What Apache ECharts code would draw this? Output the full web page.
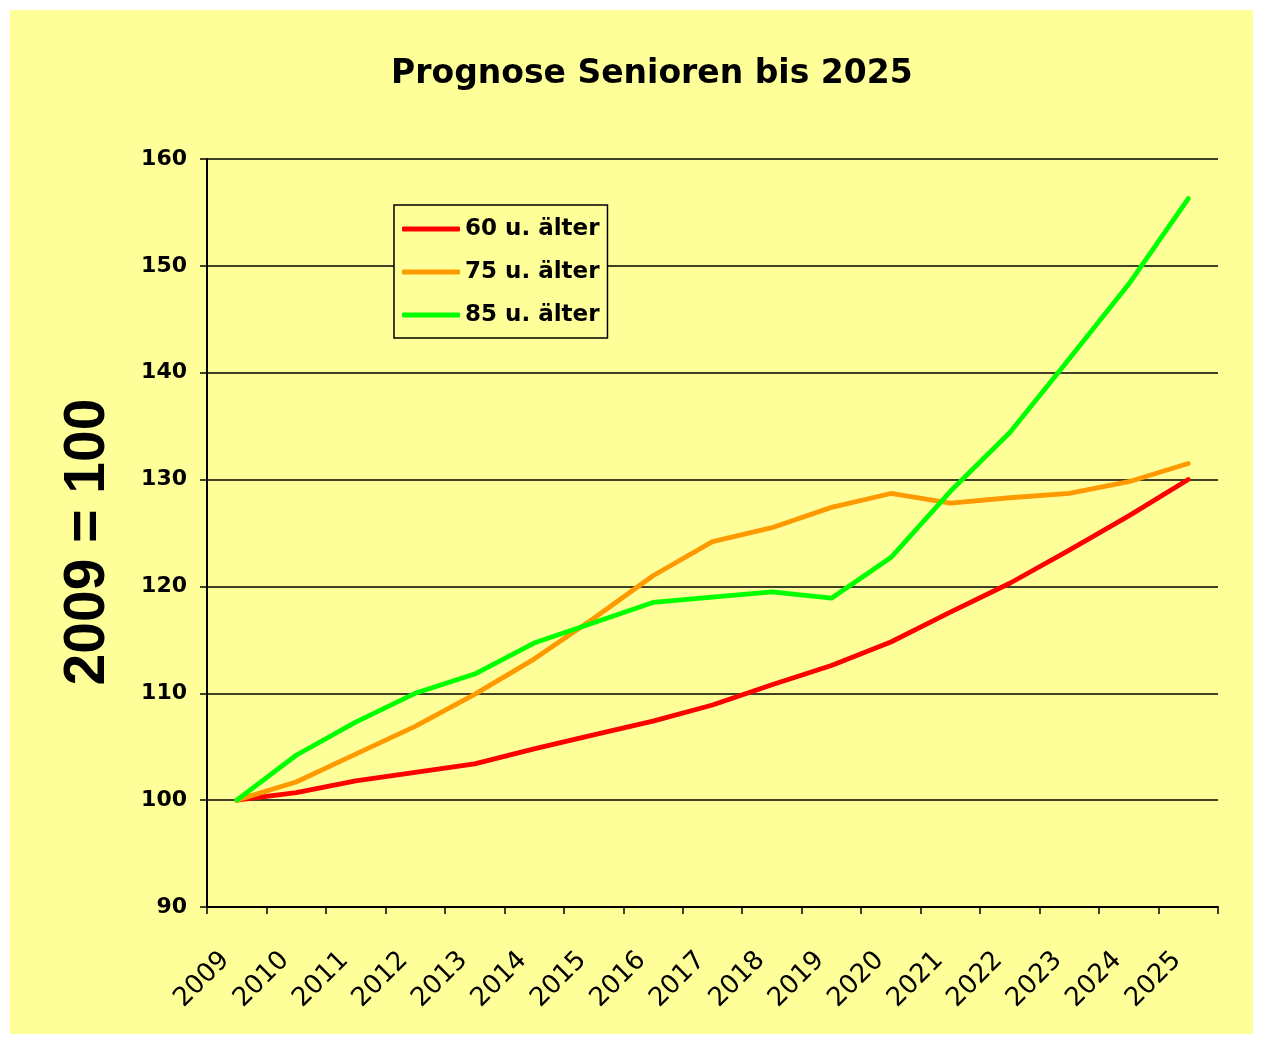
<!DOCTYPE html>
<html>
<head>
<meta charset="utf-8">
<script src="https://cdn.jsdelivr.net/npm/echarts@6/dist/echarts.min.js"></script>
<style>
  html, body { margin: 0; padding: 0; background: #fff; }
  #main { width: 1263px; height: 1037px; }
</style>
</head>
<body>
<div id="main"></div>
<script>
// Jahre und Indexwerte (2009 = 100)
var years = ['2009','2010','2011','2012','2013','2014','2015','2016','2017',
             '2018','2019','2020','2021','2022','2023','2024','2025'];
var ab60 = [100, 100.7, 101.8, 102.6, 103.4, 104.8, 106.1, 107.4, 108.9,
            110.8, 112.6, 114.8, 117.6, 120.3, 123.4, 126.6, 130.0];
var ab75 = [100, 101.7, 104.3, 106.9, 109.9, 113.2, 117.0, 121.0, 124.2,
            125.5, 127.4, 128.7, 127.8, 128.3, 128.7, 129.8, 131.5];
var ab85 = [100, 104.2, 107.3, 110.0, 111.8, 114.7, 116.6, 118.5, 119.0,
            119.5, 118.9, 122.7, 128.9, 134.4, 141.3, 148.3, 156.3];
var seriesNames = ['60 u. älter', '75 u. älter', '85 u. älter'];
var colors = ['#FF0000', '#FF9900', '#00FF00'];

var boldFont = 'DejaVu Sans';

var myChart = echarts.init(document.getElementById('main'), null, {renderer: 'canvas'});

function lineSeries(name, data, color) {
    return {
        name: name,
        type: 'line',
        data: data,
        symbol: 'none',
        color: color,
        lineStyle: { color: color, width: 4.8, cap: 'round', join: 'round' },
        emphasis: { disabled: true },
        z: 3
    };
}

var option = {
    backgroundColor: '#ffffff',
    animation: false,
    color: colors,
    graphic: [{
        type: 'rect',
        z: -10,
        shape: { x: 10, y: 10, width: 1243, height: 1024 },
        style: { fill: '#FFFF99' }
    }],
    title: {
        text: 'Prognose Senioren bis 2025',
        left: 386,
        top: 53,
        textStyle: { fontFamily: boldFont, fontWeight: 'bold', fontSize: 33, color: '#000' }
    },
    legend: {
        orient: 'vertical',
        left: 394,
        top: 205,
        padding: [10, 8, 9, 8],
        itemGap: 15,
        itemWidth: 58,
        itemHeight: 5,
        icon: 'roundRect',
        backgroundColor: '#FFFF99',
        borderColor: '#000',
        borderWidth: 1.5,
        data: seriesNames,
        textStyle: { fontFamily: boldFont, fontWeight: 'bold', fontSize: 23, color: '#000', lineHeight: 28 }
    },
    grid: { left: 207, right: 45, top: 159, bottom: 130, containLabel: false },
    xAxis: {
        type: 'category',
        data: years,
        boundaryGap: true,
        axisLine: { lineStyle: { color: '#000', width: 2 } },
        axisTick: { show: true, length: 7, lineStyle: { color: '#000', width: 1.5 } },
        axisLabel: {
            rotate: 45,
            interval: 0,
            margin: 38,
            padding: [0, 16, 0, 0],
            fontFamily: 'DejaVu Sans',
            fontSize: 26,
            color: '#000'
        },
        splitLine: { show: false }
    },
    yAxis: {
        type: 'value',
        min: 90,
        max: 160,
        interval: 10,
        name: '2009 = 100',
        nameLocation: 'middle',
        nameRotate: 90,
        nameGap: 90,
        nameTextStyle: {
            fontFamily: 'Liberation Sans', fontWeight: 'bold', fontSize: 57, color: '#000',
            padding: [0, 18, 0, 0]
        },
        axisLine: { show: true, lineStyle: { color: '#000', width: 2 } },
        axisTick: { show: true, length: 7, lineStyle: { color: '#000', width: 1.5 } },
        axisLabel: { margin: 20, fontFamily: boldFont, fontWeight: 'bold', fontSize: 22, color: '#000' },
        splitLine: { show: true, lineStyle: { color: '#000', width: 1.5 } }
    },
    series: [
        lineSeries(seriesNames[0], ab60, colors[0]),
        lineSeries(seriesNames[1], ab75, colors[1]),
        lineSeries(seriesNames[2], ab85, colors[2])
    ]
};
myChart.setOption(option);
</script>
</body>
</html>
